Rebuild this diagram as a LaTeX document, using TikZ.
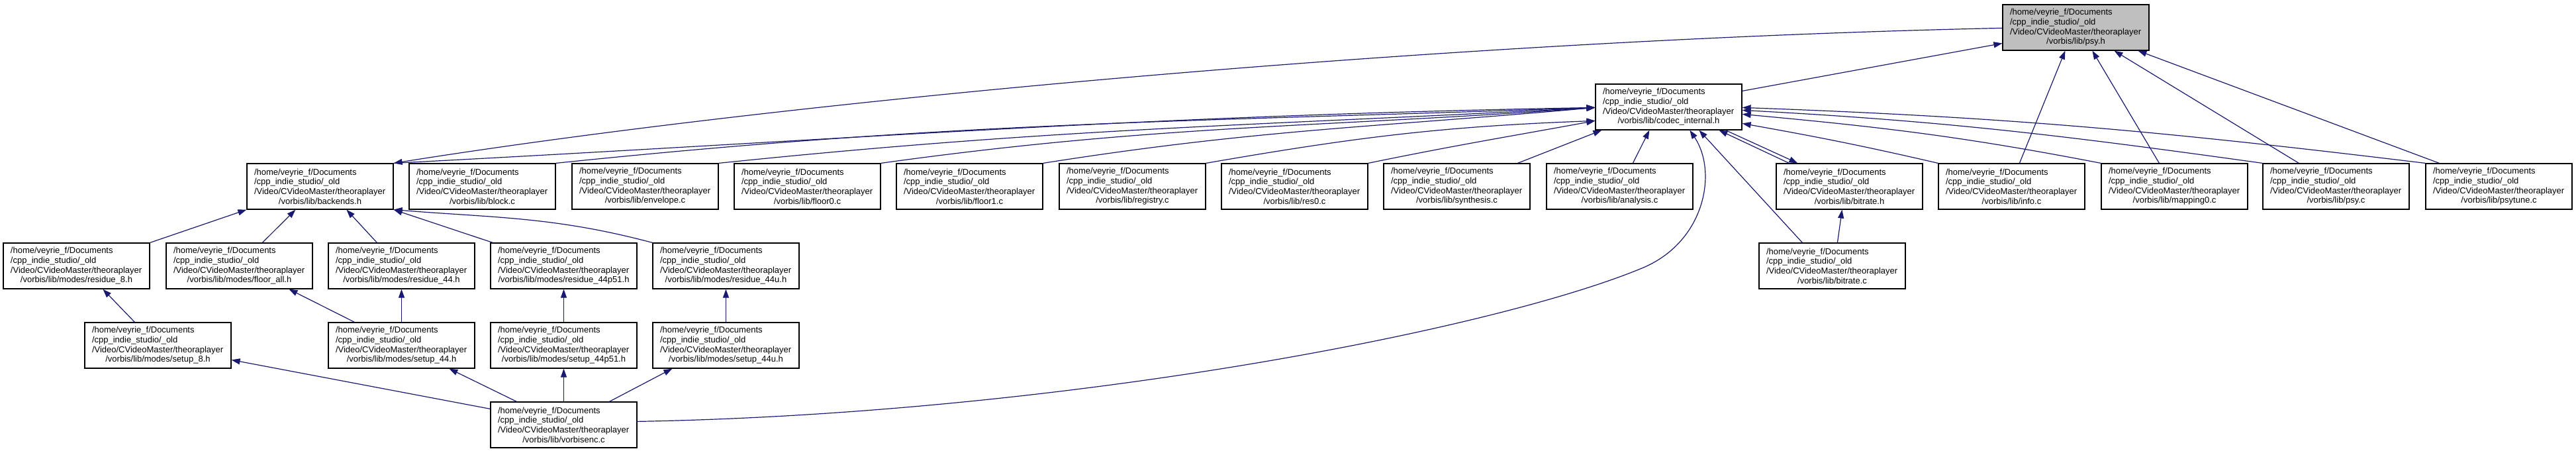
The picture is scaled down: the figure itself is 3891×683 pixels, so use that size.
\documentclass[tikz,border=0pt]{standalone}
\usepackage{fontspec}
\setmainfont{Liberation Sans}
\usetikzlibrary{arrows.meta,calc}
\definecolor{edgeblue}{HTML}{191970}
\definecolor{rootgray}{HTML}{BFBFBF}
\newcommand{\doxlabel}[1]{/home/veyrie\_f/Documents\\/cpp\_indie\_studio/\_old\\/Video/CVideoMaster/theoraplayer\\\makebox[199pt][c]{#1}}
\tikzset{
  filebox/.style={draw=black, line width=1.2pt, fill=white, rectangle,
    minimum width=221pt, minimum height=69pt, text width=199pt,
    inner xsep=11pt, inner ysep=0pt, align=left,
    font=\fontsize{13}{14.7}\selectfont},
  rootbox/.style={filebox, fill=rootgray},
  incl/.style={draw=edgeblue, line width=1.2pt, -{Triangle[length=13pt,width=9pt]}}
}
\begin{document}
\begin{tikzpicture}[x=1pt,y=-1pt]
\useasboundingbox[fill=white] (0,0) rectangle (3891,683);
% row 0
\node[rootbox] (nPsyH) at (3135.5,41.5) {\doxlabel{/vorbis/lib/psy.h}};
% row 1
\node[filebox] (nCodec) at (2520.5,161.5) {\doxlabel{/vorbis/lib/codec\_internal.h}};
% row 2
\node[filebox] (nBackends) at (483.5,281.5) {\doxlabel{/vorbis/lib/backends.h}};
\node[filebox] (nBlock) at (728.5,281.5) {\doxlabel{/vorbis/lib/block.c}};
\node[filebox] (nEnvelope) at (974.5,281.5) {\doxlabel{/vorbis/lib/envelope.c}};
\node[filebox] (nFloorZero) at (1219.5,281.5) {\doxlabel{/vorbis/lib/floor0.c}};
\node[filebox] (nFloorOne) at (1464.5,281.5) {\doxlabel{/vorbis/lib/floor1.c}};
\node[filebox] (nRegistry) at (1710.5,281.5) {\doxlabel{/vorbis/lib/registry.c}};
\node[filebox] (nResZero) at (1955.5,281.5) {\doxlabel{/vorbis/lib/res0.c}};
\node[filebox] (nSynthesis) at (2200.5,281.5) {\doxlabel{/vorbis/lib/synthesis.c}};
\node[filebox] (nAnalysis) at (2446.5,281.5) {\doxlabel{/vorbis/lib/analysis.c}};
\node[filebox] (nBitrateH) at (2793.5,281.5) {\doxlabel{/vorbis/lib/bitrate.h}};
\node[filebox] (nInfo) at (3038.5,281.5) {\doxlabel{/vorbis/lib/info.c}};
\node[filebox] (nMapping) at (3284.5,281.5) {\doxlabel{/vorbis/lib/mapping0.c}};
\node[filebox] (nPsyC) at (3528.5,281.5) {\doxlabel{/vorbis/lib/psy.c}};
\node[filebox] (nPsytune) at (3774.5,281.5) {\doxlabel{/vorbis/lib/psytune.c}};
% row 3
\node[filebox] (nResEight) at (115.5,401.5) {\doxlabel{/vorbis/lib/modes/residue\_8.h}};
\node[filebox] (nFloorAll) at (361.5,401.5) {\doxlabel{/vorbis/lib/modes/floor\_all.h}};
\node[filebox] (nResFF) at (606.5,401.5) {\doxlabel{/vorbis/lib/modes/residue\_44.h}};
\node[filebox] (nResFFP) at (851.5,401.5) {\doxlabel{/vorbis/lib/modes/residue\_44p51.h}};
\node[filebox] (nResFFU) at (1096.5,401.5) {\doxlabel{/vorbis/lib/modes/residue\_44u.h}};
\node[filebox] (nBitrateC) at (2767.5,401.5) {\doxlabel{/vorbis/lib/bitrate.c}};
% row 4
\node[filebox] (nSetEight) at (238.5,521.5) {\doxlabel{/vorbis/lib/modes/setup\_8.h}};
\node[filebox] (nSetFF) at (606.5,521.5) {\doxlabel{/vorbis/lib/modes/setup\_44.h}};
\node[filebox] (nSetFFP) at (851.5,521.5) {\doxlabel{/vorbis/lib/modes/setup\_44p51.h}};
\node[filebox] (nSetFFU) at (1096.5,521.5) {\doxlabel{/vorbis/lib/modes/setup\_44u.h}};
% row 5
\node[filebox] (nVorbisenc) at (851.5,641.5) {\doxlabel{/vorbis/lib/vorbisenc.c}};

% edges into psy.h
\draw[incl] ($(nCodec.north east)+(0,11)$) -- ($(nPsyH.north west)+(0,59)$);
\draw[incl] ($(nInfo.north west)+(123,0)$) -- ($(nPsyH.south west)+(95,0)$);
\draw[incl] ($(nMapping.north west)+(88,0)$) -- ($(nPsyH.south west)+(136,0)$);
\draw[incl] ($(nPsyC.north west)+(55,0)$) -- ($(nPsyH.south west)+(169,0)$);
\draw[incl] ($(nPsytune.north west)+(21,0)$) -- ($(nPsyH.south west)+(205,0)$);
% psy.h -> backends.h
\draw[incl] ($(nPsyH.north west)+(0,36)$) .. controls (2200,60) and (1200,150) .. (nBackends.north east);
% edges into codec_internal.h (left side)
\draw[incl] (nBackends.north east) .. controls (1294,210) and (1710,175) .. ($(nCodec.north west)+(0,36)$);
\draw[incl] (nBlock.north east) .. controls (1451,183) and (1795,184) .. ($(nCodec.north west)+(0,36)$);
\draw[incl] (nEnvelope.north east) .. controls (1602,193) and (1891,190) .. ($(nCodec.north west)+(0,36)$);
\draw[incl] (nFloorZero.north east) .. controls (1751,188) and (1986,193) .. ($(nCodec.north west)+(0,36)$);
\draw[incl] (nFloorOne.north east) .. controls (1901,195) and (2081,192) .. ($(nCodec.north west)+(0,36)$);
\draw[incl] (nRegistry.north east) .. controls (2049,207) and (2178,191) .. ($(nCodec.north west)+(0,56)$);
\draw[incl] (nResZero.north east) .. controls (2200,219) and (2275,207) .. ($(nCodec.north west)+(0,56)$);
% bottom side
\draw[incl] ($(nSynthesis.north west)+(203,0)$) -- ($(nCodec.south west)+(10,0)$);
\draw[incl] ($(nAnalysis.north west)+(131,0)$) -- ($(nCodec.south west)+(82,0)$);
\draw[incl] ($(nCodec.south west)+(197,0)$) -- ($(nBitrateH.north west)+(33,0)$);
\draw[incl] ($(nBitrateH.north west)+(20,0)$) -- ($(nCodec.south west)+(187,0)$);
\draw[incl] ($(nBitrateC.north west)+(66,0)$) -- ($(nCodec.south west)+(157,0)$);
\draw[incl] ($(nBitrateC.north west)+(119,0)$) -- ($(nBitrateH.south west)+(100,0)$);
\draw[incl] ($(nVorbisenc.north east)+(0,30)$) .. controls (1600,625) and (2250,500) .. (2480,405)
   .. controls (2575,366) and (2595,260) .. ($(nCodec.south west)+(143,0)$);
% right side
\draw[incl] (nInfo.north west) .. controls (2813,220) and (2747,207) .. ($(nCodec.north east)+(0,60)$);
\draw[incl] (nMapping.north west) .. controls (2964,206) and (2844,192) .. ($(nCodec.north east)+(0,46)$);
\draw[incl] (nPsyC.north west) .. controls (3113,204) and (2939,183) .. ($(nCodec.north east)+(0,40)$);
\draw[incl] (nPsytune.north west) .. controls (3263,198) and (3035,177) .. ($(nCodec.north east)+(0,36)$);
% edges into backends.h
\draw[incl] (nResEight.north east) -- (nBackends.south west);
\draw[incl] ($(nFloorAll.north west)+(146,0)$) -- ($(nBackends.south west)+(74,0)$);
\draw[incl] ($(nResFF.north west)+(74,0)$) -- ($(nBackends.south west)+(151,0)$);
\draw[incl] ($(nResFFP.north west)+(4,0)$) -- (nBackends.south east);
\draw[incl] (nResFFU.north west) .. controls (837,327) and (747,329) .. (nBackends.south east);
% row 4 -> row 3
\draw[incl] ($(nSetEight.north west)+(76,0)$) -- ($(nResEight.south west)+(151,0)$);
\draw[incl] ($(nSetFF.north west)+(40,0)$) -- ($(nFloorAll.south west)+(186,0)$);
\draw[incl] (nSetFF.north) -- (nResFF.south);
\draw[incl] (nSetFFP.north) -- (nResFFP.south);
\draw[incl] (nSetFFU.north) -- (nResFFU.south);
% vorbisenc -> row 4
\draw[incl] ($(nVorbisenc.north west)+(0,11)$) -- ($(nSetEight.north east)+(0,57)$);
\draw[incl] ($(nVorbisenc.north west)+(40,0)$) -- ($(nSetFF.south west)+(183,0)$);
\draw[incl] (nVorbisenc.north) -- (nSetFFP.south);
\draw[incl] ($(nVorbisenc.north west)+(180,0)$) -- ($(nSetFFU.south west)+(30,0)$);
\end{tikzpicture}
\end{document}
